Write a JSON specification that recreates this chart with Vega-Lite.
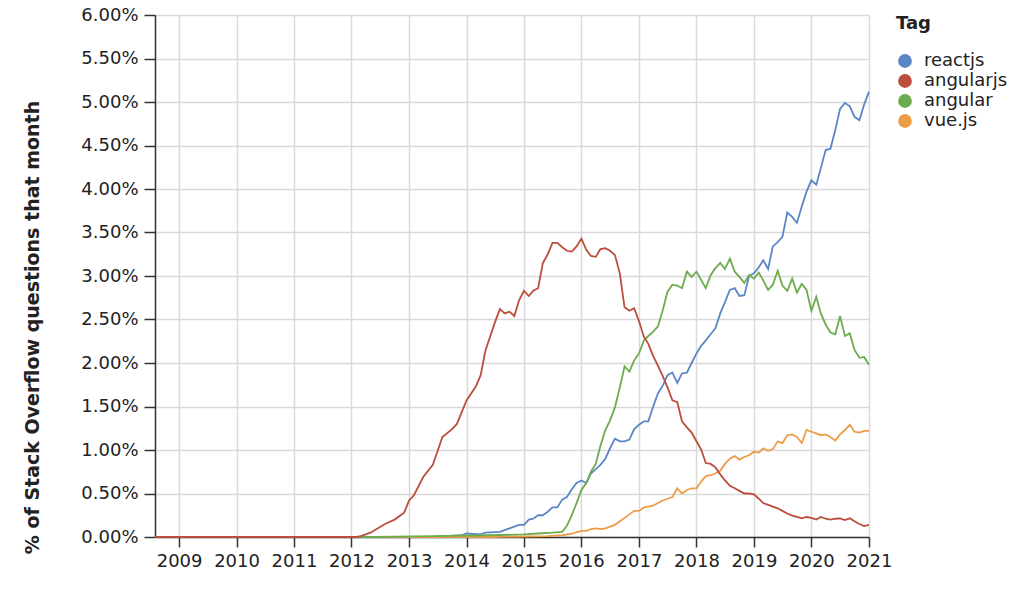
{
  "$schema": "https://vega.github.io/schema/vega-lite/v6.json",
  "width": 714,
  "height": 522,
  "autosize": {"type": "none"},
  "padding": {"left": 155, "top": 15, "right": 155, "bottom": 55},
  "background": "white",
  "config": {
    "font": "DejaVu Sans",
    "view": {"stroke": null},
    "axis": {
      "labelFont": "DejaVu Sans",
      "labelFontSize": 18,
      "labelColor": "#222",
      "domainColor": "#333",
      "domainWidth": 1.5,
      "tickColor": "#333",
      "tickWidth": 1.5,
      "gridColor": "#d9d9d9",
      "gridWidth": 1.5
    }
  },
  "data": {
    "values": [
      {"tag": "reactjs", "month": "2008-08-01", "pct": 0},
      {"tag": "reactjs", "month": "2013-06-01", "pct": 0},
      {"tag": "reactjs", "month": "2013-12-01", "pct": 0.02},
      {"tag": "reactjs", "month": "2014-01-01", "pct": 0.04},
      {"tag": "reactjs", "month": "2014-04-01", "pct": 0.03},
      {"tag": "reactjs", "month": "2014-05-01", "pct": 0.05},
      {"tag": "reactjs", "month": "2014-08-01", "pct": 0.06},
      {"tag": "reactjs", "month": "2014-10-01", "pct": 0.10},
      {"tag": "reactjs", "month": "2014-12-01", "pct": 0.14},
      {"tag": "reactjs", "month": "2015-01-01", "pct": 0.14},
      {"tag": "reactjs", "month": "2015-02-01", "pct": 0.20},
      {"tag": "reactjs", "month": "2015-03-01", "pct": 0.21},
      {"tag": "reactjs", "month": "2015-04-01", "pct": 0.25},
      {"tag": "reactjs", "month": "2015-05-01", "pct": 0.25},
      {"tag": "reactjs", "month": "2015-06-01", "pct": 0.29},
      {"tag": "reactjs", "month": "2015-07-01", "pct": 0.34},
      {"tag": "reactjs", "month": "2015-08-01", "pct": 0.34},
      {"tag": "reactjs", "month": "2015-09-01", "pct": 0.43},
      {"tag": "reactjs", "month": "2015-10-01", "pct": 0.46},
      {"tag": "reactjs", "month": "2015-11-01", "pct": 0.55},
      {"tag": "reactjs", "month": "2015-12-01", "pct": 0.62},
      {"tag": "reactjs", "month": "2016-01-01", "pct": 0.65},
      {"tag": "reactjs", "month": "2016-02-01", "pct": 0.62},
      {"tag": "reactjs", "month": "2016-03-01", "pct": 0.73},
      {"tag": "reactjs", "month": "2016-04-01", "pct": 0.78},
      {"tag": "reactjs", "month": "2016-05-01", "pct": 0.83},
      {"tag": "reactjs", "month": "2016-06-01", "pct": 0.90},
      {"tag": "reactjs", "month": "2016-07-01", "pct": 1.02},
      {"tag": "reactjs", "month": "2016-08-01", "pct": 1.13},
      {"tag": "reactjs", "month": "2016-09-01", "pct": 1.10},
      {"tag": "reactjs", "month": "2016-10-01", "pct": 1.10},
      {"tag": "reactjs", "month": "2016-11-01", "pct": 1.12},
      {"tag": "reactjs", "month": "2016-12-01", "pct": 1.24},
      {"tag": "reactjs", "month": "2017-01-01", "pct": 1.29},
      {"tag": "reactjs", "month": "2017-02-01", "pct": 1.33},
      {"tag": "reactjs", "month": "2017-03-01", "pct": 1.33},
      {"tag": "reactjs", "month": "2017-04-01", "pct": 1.50},
      {"tag": "reactjs", "month": "2017-05-01", "pct": 1.65},
      {"tag": "reactjs", "month": "2017-06-01", "pct": 1.74},
      {"tag": "reactjs", "month": "2017-07-01", "pct": 1.86},
      {"tag": "reactjs", "month": "2017-08-01", "pct": 1.89},
      {"tag": "reactjs", "month": "2017-09-01", "pct": 1.77},
      {"tag": "reactjs", "month": "2017-10-01", "pct": 1.88},
      {"tag": "reactjs", "month": "2017-11-01", "pct": 1.89},
      {"tag": "reactjs", "month": "2017-12-01", "pct": 2.00},
      {"tag": "reactjs", "month": "2018-01-01", "pct": 2.11},
      {"tag": "reactjs", "month": "2018-02-01", "pct": 2.20},
      {"tag": "reactjs", "month": "2018-03-01", "pct": 2.26},
      {"tag": "reactjs", "month": "2018-04-01", "pct": 2.33},
      {"tag": "reactjs", "month": "2018-05-01", "pct": 2.40},
      {"tag": "reactjs", "month": "2018-06-01", "pct": 2.57},
      {"tag": "reactjs", "month": "2018-07-01", "pct": 2.70},
      {"tag": "reactjs", "month": "2018-08-01", "pct": 2.84},
      {"tag": "reactjs", "month": "2018-09-01", "pct": 2.86},
      {"tag": "reactjs", "month": "2018-10-01", "pct": 2.77},
      {"tag": "reactjs", "month": "2018-11-01", "pct": 2.78},
      {"tag": "reactjs", "month": "2018-12-01", "pct": 3.00},
      {"tag": "reactjs", "month": "2019-01-01", "pct": 3.03},
      {"tag": "reactjs", "month": "2019-02-01", "pct": 3.10},
      {"tag": "reactjs", "month": "2019-03-01", "pct": 3.18},
      {"tag": "reactjs", "month": "2019-04-01", "pct": 3.08},
      {"tag": "reactjs", "month": "2019-05-01", "pct": 3.34},
      {"tag": "reactjs", "month": "2019-06-01", "pct": 3.39},
      {"tag": "reactjs", "month": "2019-07-01", "pct": 3.45},
      {"tag": "reactjs", "month": "2019-08-01", "pct": 3.73},
      {"tag": "reactjs", "month": "2019-09-01", "pct": 3.68},
      {"tag": "reactjs", "month": "2019-10-01", "pct": 3.61},
      {"tag": "reactjs", "month": "2019-11-01", "pct": 3.80},
      {"tag": "reactjs", "month": "2019-12-01", "pct": 3.97},
      {"tag": "reactjs", "month": "2020-01-01", "pct": 4.10},
      {"tag": "reactjs", "month": "2020-02-01", "pct": 4.05},
      {"tag": "reactjs", "month": "2020-03-01", "pct": 4.24},
      {"tag": "reactjs", "month": "2020-04-01", "pct": 4.45},
      {"tag": "reactjs", "month": "2020-05-01", "pct": 4.46},
      {"tag": "reactjs", "month": "2020-06-01", "pct": 4.68},
      {"tag": "reactjs", "month": "2020-07-01", "pct": 4.92},
      {"tag": "reactjs", "month": "2020-08-01", "pct": 4.99},
      {"tag": "reactjs", "month": "2020-09-01", "pct": 4.95},
      {"tag": "reactjs", "month": "2020-10-01", "pct": 4.83},
      {"tag": "reactjs", "month": "2020-11-01", "pct": 4.79},
      {"tag": "reactjs", "month": "2020-12-01", "pct": 4.97},
      {"tag": "reactjs", "month": "2021-01-01", "pct": 5.12},

      {"tag": "vue.js", "month": "2008-08-01", "pct": 0},
      {"tag": "vue.js", "month": "2014-06-01", "pct": 0},
      {"tag": "vue.js", "month": "2015-06-01", "pct": 0.01},
      {"tag": "vue.js", "month": "2015-09-01", "pct": 0.02},
      {"tag": "vue.js", "month": "2015-11-01", "pct": 0.04},
      {"tag": "vue.js", "month": "2016-01-01", "pct": 0.07},
      {"tag": "vue.js", "month": "2016-02-01", "pct": 0.07},
      {"tag": "vue.js", "month": "2016-03-01", "pct": 0.09},
      {"tag": "vue.js", "month": "2016-04-01", "pct": 0.10},
      {"tag": "vue.js", "month": "2016-05-01", "pct": 0.09},
      {"tag": "vue.js", "month": "2016-06-01", "pct": 0.10},
      {"tag": "vue.js", "month": "2016-07-01", "pct": 0.12},
      {"tag": "vue.js", "month": "2016-08-01", "pct": 0.14},
      {"tag": "vue.js", "month": "2016-09-01", "pct": 0.18},
      {"tag": "vue.js", "month": "2016-10-01", "pct": 0.22},
      {"tag": "vue.js", "month": "2016-11-01", "pct": 0.26},
      {"tag": "vue.js", "month": "2016-12-01", "pct": 0.30},
      {"tag": "vue.js", "month": "2017-01-01", "pct": 0.30},
      {"tag": "vue.js", "month": "2017-02-01", "pct": 0.34},
      {"tag": "vue.js", "month": "2017-03-01", "pct": 0.35},
      {"tag": "vue.js", "month": "2017-04-01", "pct": 0.36},
      {"tag": "vue.js", "month": "2017-05-01", "pct": 0.39},
      {"tag": "vue.js", "month": "2017-06-01", "pct": 0.42},
      {"tag": "vue.js", "month": "2017-07-01", "pct": 0.44},
      {"tag": "vue.js", "month": "2017-08-01", "pct": 0.46},
      {"tag": "vue.js", "month": "2017-09-01", "pct": 0.56},
      {"tag": "vue.js", "month": "2017-10-01", "pct": 0.50},
      {"tag": "vue.js", "month": "2017-11-01", "pct": 0.54},
      {"tag": "vue.js", "month": "2017-12-01", "pct": 0.56},
      {"tag": "vue.js", "month": "2018-01-01", "pct": 0.56},
      {"tag": "vue.js", "month": "2018-02-01", "pct": 0.64},
      {"tag": "vue.js", "month": "2018-03-01", "pct": 0.70},
      {"tag": "vue.js", "month": "2018-04-01", "pct": 0.71},
      {"tag": "vue.js", "month": "2018-05-01", "pct": 0.73},
      {"tag": "vue.js", "month": "2018-06-01", "pct": 0.76},
      {"tag": "vue.js", "month": "2018-07-01", "pct": 0.84},
      {"tag": "vue.js", "month": "2018-08-01", "pct": 0.90},
      {"tag": "vue.js", "month": "2018-09-01", "pct": 0.93},
      {"tag": "vue.js", "month": "2018-10-01", "pct": 0.89},
      {"tag": "vue.js", "month": "2018-11-01", "pct": 0.92},
      {"tag": "vue.js", "month": "2018-12-01", "pct": 0.94},
      {"tag": "vue.js", "month": "2019-01-01", "pct": 0.98},
      {"tag": "vue.js", "month": "2019-02-01", "pct": 0.97},
      {"tag": "vue.js", "month": "2019-03-01", "pct": 1.02},
      {"tag": "vue.js", "month": "2019-04-01", "pct": 0.99},
      {"tag": "vue.js", "month": "2019-05-01", "pct": 1.01},
      {"tag": "vue.js", "month": "2019-06-01", "pct": 1.10},
      {"tag": "vue.js", "month": "2019-07-01", "pct": 1.08},
      {"tag": "vue.js", "month": "2019-08-01", "pct": 1.17},
      {"tag": "vue.js", "month": "2019-09-01", "pct": 1.18},
      {"tag": "vue.js", "month": "2019-10-01", "pct": 1.15},
      {"tag": "vue.js", "month": "2019-11-01", "pct": 1.08},
      {"tag": "vue.js", "month": "2019-12-01", "pct": 1.23},
      {"tag": "vue.js", "month": "2020-01-01", "pct": 1.21},
      {"tag": "vue.js", "month": "2020-02-01", "pct": 1.19},
      {"tag": "vue.js", "month": "2020-03-01", "pct": 1.17},
      {"tag": "vue.js", "month": "2020-04-01", "pct": 1.18},
      {"tag": "vue.js", "month": "2020-05-01", "pct": 1.15},
      {"tag": "vue.js", "month": "2020-06-01", "pct": 1.11},
      {"tag": "vue.js", "month": "2020-07-01", "pct": 1.18},
      {"tag": "vue.js", "month": "2020-08-01", "pct": 1.23},
      {"tag": "vue.js", "month": "2020-09-01", "pct": 1.29},
      {"tag": "vue.js", "month": "2020-10-01", "pct": 1.21},
      {"tag": "vue.js", "month": "2020-11-01", "pct": 1.20},
      {"tag": "vue.js", "month": "2020-12-01", "pct": 1.22},
      {"tag": "vue.js", "month": "2021-01-01", "pct": 1.22},

      {"tag": "angular", "month": "2008-08-01", "pct": 0},
      {"tag": "angular", "month": "2012-06-01", "pct": 0},
      {"tag": "angular", "month": "2013-06-01", "pct": 0.01},
      {"tag": "angular", "month": "2014-06-01", "pct": 0.02},
      {"tag": "angular", "month": "2015-01-01", "pct": 0.03},
      {"tag": "angular", "month": "2015-04-01", "pct": 0.04},
      {"tag": "angular", "month": "2015-07-01", "pct": 0.05},
      {"tag": "angular", "month": "2015-09-01", "pct": 0.06},
      {"tag": "angular", "month": "2015-10-01", "pct": 0.13},
      {"tag": "angular", "month": "2015-11-01", "pct": 0.25},
      {"tag": "angular", "month": "2015-12-01", "pct": 0.39},
      {"tag": "angular", "month": "2016-01-01", "pct": 0.54},
      {"tag": "angular", "month": "2016-02-01", "pct": 0.62},
      {"tag": "angular", "month": "2016-03-01", "pct": 0.75},
      {"tag": "angular", "month": "2016-04-01", "pct": 0.84},
      {"tag": "angular", "month": "2016-05-01", "pct": 1.05},
      {"tag": "angular", "month": "2016-06-01", "pct": 1.23},
      {"tag": "angular", "month": "2016-07-01", "pct": 1.34},
      {"tag": "angular", "month": "2016-08-01", "pct": 1.49},
      {"tag": "angular", "month": "2016-09-01", "pct": 1.72},
      {"tag": "angular", "month": "2016-10-01", "pct": 1.96},
      {"tag": "angular", "month": "2016-11-01", "pct": 1.90},
      {"tag": "angular", "month": "2016-12-01", "pct": 2.03},
      {"tag": "angular", "month": "2017-01-01", "pct": 2.11},
      {"tag": "angular", "month": "2017-02-01", "pct": 2.26},
      {"tag": "angular", "month": "2017-03-01", "pct": 2.31},
      {"tag": "angular", "month": "2017-04-01", "pct": 2.36},
      {"tag": "angular", "month": "2017-05-01", "pct": 2.42},
      {"tag": "angular", "month": "2017-06-01", "pct": 2.61},
      {"tag": "angular", "month": "2017-07-01", "pct": 2.82},
      {"tag": "angular", "month": "2017-08-01", "pct": 2.90},
      {"tag": "angular", "month": "2017-09-01", "pct": 2.89},
      {"tag": "angular", "month": "2017-10-01", "pct": 2.86},
      {"tag": "angular", "month": "2017-11-01", "pct": 3.05},
      {"tag": "angular", "month": "2017-12-01", "pct": 2.99},
      {"tag": "angular", "month": "2018-01-01", "pct": 3.05},
      {"tag": "angular", "month": "2018-02-01", "pct": 2.95},
      {"tag": "angular", "month": "2018-03-01", "pct": 2.86},
      {"tag": "angular", "month": "2018-04-01", "pct": 3.01},
      {"tag": "angular", "month": "2018-05-01", "pct": 3.09},
      {"tag": "angular", "month": "2018-06-01", "pct": 3.15},
      {"tag": "angular", "month": "2018-07-01", "pct": 3.08},
      {"tag": "angular", "month": "2018-08-01", "pct": 3.20},
      {"tag": "angular", "month": "2018-09-01", "pct": 3.05},
      {"tag": "angular", "month": "2018-10-01", "pct": 2.99},
      {"tag": "angular", "month": "2018-11-01", "pct": 2.92},
      {"tag": "angular", "month": "2018-12-01", "pct": 3.01},
      {"tag": "angular", "month": "2019-01-01", "pct": 2.97},
      {"tag": "angular", "month": "2019-02-01", "pct": 3.04},
      {"tag": "angular", "month": "2019-03-01", "pct": 2.95},
      {"tag": "angular", "month": "2019-04-01", "pct": 2.84},
      {"tag": "angular", "month": "2019-05-01", "pct": 2.90},
      {"tag": "angular", "month": "2019-06-01", "pct": 3.06},
      {"tag": "angular", "month": "2019-07-01", "pct": 2.89},
      {"tag": "angular", "month": "2019-08-01", "pct": 2.83},
      {"tag": "angular", "month": "2019-09-01", "pct": 2.97},
      {"tag": "angular", "month": "2019-10-01", "pct": 2.81},
      {"tag": "angular", "month": "2019-11-01", "pct": 2.91},
      {"tag": "angular", "month": "2019-12-01", "pct": 2.84},
      {"tag": "angular", "month": "2020-01-01", "pct": 2.60},
      {"tag": "angular", "month": "2020-02-01", "pct": 2.76},
      {"tag": "angular", "month": "2020-03-01", "pct": 2.57},
      {"tag": "angular", "month": "2020-04-01", "pct": 2.44},
      {"tag": "angular", "month": "2020-05-01", "pct": 2.35},
      {"tag": "angular", "month": "2020-06-01", "pct": 2.33},
      {"tag": "angular", "month": "2020-07-01", "pct": 2.54},
      {"tag": "angular", "month": "2020-08-01", "pct": 2.31},
      {"tag": "angular", "month": "2020-09-01", "pct": 2.34},
      {"tag": "angular", "month": "2020-10-01", "pct": 2.15},
      {"tag": "angular", "month": "2020-11-01", "pct": 2.06},
      {"tag": "angular", "month": "2020-12-01", "pct": 2.07},
      {"tag": "angular", "month": "2021-01-01", "pct": 1.98},

      {"tag": "angularjs", "month": "2008-08-01", "pct": 0},
      {"tag": "angularjs", "month": "2012-02-01", "pct": 0},
      {"tag": "angularjs", "month": "2012-03-01", "pct": 0.01},
      {"tag": "angularjs", "month": "2012-05-01", "pct": 0.05},
      {"tag": "angularjs", "month": "2012-08-01", "pct": 0.15},
      {"tag": "angularjs", "month": "2012-10-01", "pct": 0.20},
      {"tag": "angularjs", "month": "2012-12-01", "pct": 0.28},
      {"tag": "angularjs", "month": "2013-01-01", "pct": 0.42},
      {"tag": "angularjs", "month": "2013-02-01", "pct": 0.48},
      {"tag": "angularjs", "month": "2013-04-01", "pct": 0.69},
      {"tag": "angularjs", "month": "2013-06-01", "pct": 0.83},
      {"tag": "angularjs", "month": "2013-08-01", "pct": 1.15},
      {"tag": "angularjs", "month": "2013-10-01", "pct": 1.24},
      {"tag": "angularjs", "month": "2013-11-01", "pct": 1.30},
      {"tag": "angularjs", "month": "2014-01-01", "pct": 1.57},
      {"tag": "angularjs", "month": "2014-03-01", "pct": 1.73},
      {"tag": "angularjs", "month": "2014-04-01", "pct": 1.86},
      {"tag": "angularjs", "month": "2014-05-01", "pct": 2.14},
      {"tag": "angularjs", "month": "2014-07-01", "pct": 2.47},
      {"tag": "angularjs", "month": "2014-08-01", "pct": 2.62},
      {"tag": "angularjs", "month": "2014-09-01", "pct": 2.57},
      {"tag": "angularjs", "month": "2014-10-01", "pct": 2.59},
      {"tag": "angularjs", "month": "2014-11-01", "pct": 2.54},
      {"tag": "angularjs", "month": "2014-12-01", "pct": 2.72},
      {"tag": "angularjs", "month": "2015-01-01", "pct": 2.83},
      {"tag": "angularjs", "month": "2015-02-01", "pct": 2.77},
      {"tag": "angularjs", "month": "2015-03-01", "pct": 2.83},
      {"tag": "angularjs", "month": "2015-04-01", "pct": 2.86},
      {"tag": "angularjs", "month": "2015-05-01", "pct": 3.15},
      {"tag": "angularjs", "month": "2015-06-01", "pct": 3.25},
      {"tag": "angularjs", "month": "2015-07-01", "pct": 3.38},
      {"tag": "angularjs", "month": "2015-08-01", "pct": 3.38},
      {"tag": "angularjs", "month": "2015-09-01", "pct": 3.33},
      {"tag": "angularjs", "month": "2015-10-01", "pct": 3.29},
      {"tag": "angularjs", "month": "2015-11-01", "pct": 3.28},
      {"tag": "angularjs", "month": "2015-12-01", "pct": 3.34},
      {"tag": "angularjs", "month": "2016-01-01", "pct": 3.43},
      {"tag": "angularjs", "month": "2016-02-01", "pct": 3.30},
      {"tag": "angularjs", "month": "2016-03-01", "pct": 3.23},
      {"tag": "angularjs", "month": "2016-04-01", "pct": 3.22},
      {"tag": "angularjs", "month": "2016-05-01", "pct": 3.31},
      {"tag": "angularjs", "month": "2016-06-01", "pct": 3.32},
      {"tag": "angularjs", "month": "2016-07-01", "pct": 3.29},
      {"tag": "angularjs", "month": "2016-08-01", "pct": 3.24},
      {"tag": "angularjs", "month": "2016-09-01", "pct": 3.03},
      {"tag": "angularjs", "month": "2016-10-01", "pct": 2.64},
      {"tag": "angularjs", "month": "2016-11-01", "pct": 2.60},
      {"tag": "angularjs", "month": "2016-12-01", "pct": 2.63},
      {"tag": "angularjs", "month": "2017-01-01", "pct": 2.48},
      {"tag": "angularjs", "month": "2017-02-01", "pct": 2.30},
      {"tag": "angularjs", "month": "2017-03-01", "pct": 2.22},
      {"tag": "angularjs", "month": "2017-04-01", "pct": 2.08},
      {"tag": "angularjs", "month": "2017-05-01", "pct": 1.97},
      {"tag": "angularjs", "month": "2017-06-01", "pct": 1.85},
      {"tag": "angularjs", "month": "2017-07-01", "pct": 1.72},
      {"tag": "angularjs", "month": "2017-08-01", "pct": 1.57},
      {"tag": "angularjs", "month": "2017-09-01", "pct": 1.55},
      {"tag": "angularjs", "month": "2017-10-01", "pct": 1.33},
      {"tag": "angularjs", "month": "2017-11-01", "pct": 1.26},
      {"tag": "angularjs", "month": "2017-12-01", "pct": 1.20},
      {"tag": "angularjs", "month": "2018-01-01", "pct": 1.10},
      {"tag": "angularjs", "month": "2018-02-01", "pct": 1.00},
      {"tag": "angularjs", "month": "2018-03-01", "pct": 0.85},
      {"tag": "angularjs", "month": "2018-04-01", "pct": 0.84},
      {"tag": "angularjs", "month": "2018-05-01", "pct": 0.80},
      {"tag": "angularjs", "month": "2018-06-01", "pct": 0.72},
      {"tag": "angularjs", "month": "2018-07-01", "pct": 0.65},
      {"tag": "angularjs", "month": "2018-08-01", "pct": 0.59},
      {"tag": "angularjs", "month": "2018-09-01", "pct": 0.56},
      {"tag": "angularjs", "month": "2018-10-01", "pct": 0.53},
      {"tag": "angularjs", "month": "2018-11-01", "pct": 0.50},
      {"tag": "angularjs", "month": "2018-12-01", "pct": 0.50},
      {"tag": "angularjs", "month": "2019-01-01", "pct": 0.49},
      {"tag": "angularjs", "month": "2019-02-01", "pct": 0.44},
      {"tag": "angularjs", "month": "2019-03-01", "pct": 0.39},
      {"tag": "angularjs", "month": "2019-04-01", "pct": 0.37},
      {"tag": "angularjs", "month": "2019-05-01", "pct": 0.35},
      {"tag": "angularjs", "month": "2019-06-01", "pct": 0.33},
      {"tag": "angularjs", "month": "2019-07-01", "pct": 0.30},
      {"tag": "angularjs", "month": "2019-08-01", "pct": 0.27},
      {"tag": "angularjs", "month": "2019-09-01", "pct": 0.245},
      {"tag": "angularjs", "month": "2019-10-01", "pct": 0.23},
      {"tag": "angularjs", "month": "2019-11-01", "pct": 0.215},
      {"tag": "angularjs", "month": "2019-12-01", "pct": 0.23},
      {"tag": "angularjs", "month": "2020-01-01", "pct": 0.22},
      {"tag": "angularjs", "month": "2020-02-01", "pct": 0.20},
      {"tag": "angularjs", "month": "2020-03-01", "pct": 0.23},
      {"tag": "angularjs", "month": "2020-04-01", "pct": 0.21},
      {"tag": "angularjs", "month": "2020-05-01", "pct": 0.20},
      {"tag": "angularjs", "month": "2020-06-01", "pct": 0.21},
      {"tag": "angularjs", "month": "2020-07-01", "pct": 0.215},
      {"tag": "angularjs", "month": "2020-08-01", "pct": 0.195},
      {"tag": "angularjs", "month": "2020-09-01", "pct": 0.215},
      {"tag": "angularjs", "month": "2020-10-01", "pct": 0.18},
      {"tag": "angularjs", "month": "2020-11-01", "pct": 0.15},
      {"tag": "angularjs", "month": "2020-12-01", "pct": 0.126},
      {"tag": "angularjs", "month": "2021-01-01", "pct": 0.14}
    ]
  },
  "mark": {"type": "line", "strokeWidth": 1.8, "interpolate": "linear"},
  "encoding": {
    "x": {
      "field": "month",
      "type": "temporal",
      "scale": {
        "type": "utc",
        "domain": [
          {"year": 2008, "month": 8, "date": 1, "utc": true},
          {"year": 2021, "month": 1, "date": 1, "utc": true}
        ]
      },
      "axis": {
        "title": null,
        "format": "%Y",
        "formatType": "utc",
        "tickCount": "year",
        "tickSize": 10,
        "labelPadding": 5,
        "labelFlush": false,
        "labelOverlap": false
      }
    },
    "y": {
      "field": "pct",
      "type": "quantitative",
      "scale": {"domain": [0, 6], "nice": false},
      "axis": {
        "title": "% of Stack Overflow questions that month",
        "titleFont": "DejaVu Sans",
        "titleFontSize": 19,
        "titleFontWeight": "bold",
        "titleColor": "#222",
        "titlePadding": 38,
        "titleY": 312,
        "values": [0, 0.5, 1, 1.5, 2, 2.5, 3, 3.5, 4, 4.5, 5, 5.5, 6],
        "labelExpr": "format(datum.value, '.2f') + '%'",
        "tickSize": 11,
        "labelPadding": 6
      }
    },
    "color": {
      "field": "tag",
      "type": "nominal",
      "scale": {
        "domain": ["reactjs", "angularjs", "angular", "vue.js"],
        "range": ["#5a86c6", "#bb4d3c", "#6cab4e", "#ec9d48"]
      },
      "legend": {
        "title": "Tag",
        "orient": "right",
        "offset": 23,
        "titleFont": "DejaVu Sans",
        "titleFontSize": 18,
        "titleFontWeight": "bold",
        "titleColor": "#222",
        "titlePadding": 19,
        "labelFont": "DejaVu Sans",
        "labelFontSize": 18,
        "labelColor": "#222",
        "labelOffset": 10,
        "rowPadding": 2,
        "symbolType": "circle",
        "symbolSize": 190,
        "symbolStrokeWidth": 0,
        "encode": {
          "symbols": {
            "update": {
              "fill": {"scale": "color", "field": "value"},
              "fillOpacity": {"value": 1}
            }
          }
        }
      }
    }
  }
}
